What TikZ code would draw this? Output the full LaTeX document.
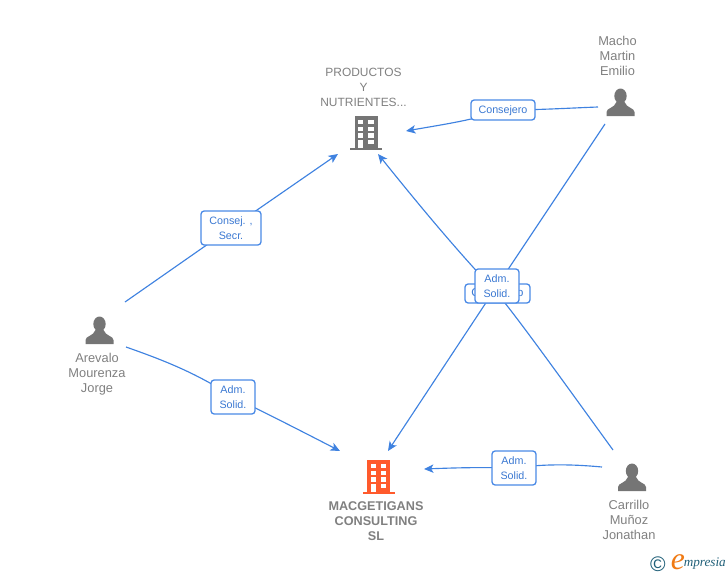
\documentclass[tikz,border=0pt]{standalone}
\usepackage{fontspec}
\setmainfont{Liberation Sans}
\newfontfamily\logofont{Liberation Serif}
\usetikzlibrary{arrows.meta,backgrounds}
\definecolor{linkblue}{HTML}{3F82E0}
\definecolor{boxblue}{HTML}{4A8AE6}
\definecolor{textblue}{HTML}{3A78D2}
\definecolor{namegray}{HTML}{808080}
\definecolor{iconorange}{HTML}{FF5A2C}
\definecolor{icongray}{HTML}{757575}
\definecolor{logoteal}{HTML}{1F5F78}
\definecolor{logoorange}{HTML}{F07A14}
\tikzset{
    linkbox/.style={draw=boxblue, line width=.75pt, fill=white, rounded corners=1.8pt, inner sep=0pt,
        text=textblue, align=center, font={\fontsize{6.1}{8.5}\selectfont}},
    link/.style={draw=linkblue, line width=.65pt},
    linkarrow/.style={link, -{Stealth[length=5.4pt,width=4.8pt,inset=1.4pt]}},
    namelabel/.style={text=namegray, align=center, font={\fontsize{7.3}{8.5}\selectfont}},
    pics/person/.style={code={
        \fill[icongray] (0, -20) ellipse (6.2 and 7.5);
        \fill[icongray] (-14, 0) -- (-14, -4) .. controls (-14, -8) and (-6, -8) .. (-4, -14) -- (4, -14)
            .. controls (6, -8) and (14, -8) .. (14, -4) -- (14, 0) -- cycle;
    }},
    pics/building/.style={code={
        \fill[#1] (-11.5, 0) rectangle (11.5, 32);
        \fill[#1] (-16, 31.5) rectangle (16, 34);
        \foreach \row in {4, 10.7, 17.3} {
            \fill[white] (-8, \row) rectangle (-2.7, \row+4.3);
            \fill[white] (2.3, \row) rectangle (7.7, \row+4.3);
        }
        \fill[white] (-8, 24) rectangle (-2.7, 31.5);
        \fill[white] (2.3, 24) rectangle (7.7, 28.3);
    }}
}
\begin{document}
\begin{tikzpicture}[x=.2mm, y=-.2mm]
        \useasboundingbox (0, 0) rectangle (728, 575);

        % icons
        \pic at(366, 116){building=icongray};
        \pic at(378.5, 460){building=iconorange};
        \pic at(99.5, 344){person};
        \pic at(620.5, 116){person};
        \pic at(632, 491){person};

        % names
        \node[namelabel, font={\fontsize{6.8}{8.5}\selectfont}] (nameProductos) at(363.5, 87){PRODUCTOS\\Y\\NUTRIENTES...};
        \node[namelabel, font={\fontsize{7.2}{8.5}\selectfont\bfseries}] (nameMacgetigans) at(376, 521){MACGETIGANS\\CONSULTING\\SL};
        \node[namelabel] (nameArevalo) at(97, 374.5){Arevalo\\Mourenza\\Jorge};
        \node[namelabel] (nameMacho) at(617.5, 56){Macho\\Martin\\Emilio};
        \node[namelabel] (nameCarrillo) at(629, 520){Carrillo\\Muñoz\\Jonathan};

        % free ends
        \coordinate (arevaloUp) at(125, 302);
        \coordinate (arevaloDown) at(126, 347);
        \coordinate (machoLeft) at(598, 107);
        \coordinate (machoDown) at(605, 124);
        \coordinate (carrilloUp) at(613, 450);
        \coordinate (carrilloLeft) at(602, 467);
        \coordinate (productosLeft) at(338, 154);
        \coordinate (productosBelow) at(378, 154);
        \coordinate (productosRight) at(406, 131);
        \coordinate (macgetigansLeft) at(340, 451);
        \coordinate (macgetigansAbove) at(388, 451);
        \coordinate (macgetigansRight) at(424, 469);

        % labels
        \node[linkbox, minimum width=60*.2mm, minimum height=34*.2mm] (labConsej) at(231, 228){Consej. ,\\Secr.};
        \node[linkbox, minimum width=44*.2mm, minimum height=34*.2mm] (labArevalo) at(233, 397){Adm.\\Solid.};
        \node[linkbox, minimum width=64*.2mm, minimum height=20*.2mm, text height=5.5pt, text depth=1pt] (labMacho) at(503, 110){Consejero};
        \node[linkbox, minimum width=65*.2mm, minimum height=19*.2mm, font={\fontsize{6.5}{8.5}\selectfont}] (labHidden) at(497.5, 293.5){Consejero};
        \node[linkbox, minimum width=44*.2mm, minimum height=34*.2mm] (labCentre) at(497, 286){Adm.\\Solid.};
        \node[linkbox, minimum width=44*.2mm, minimum height=34*.2mm] (labCarrillo) at(514, 468){Adm.\\Solid.};

        % connectors
        \begin{pgfonlayer}{background}
            \draw[link] (arevaloUp) to (labConsej.center);
            \draw[linkarrow] (labConsej.center) to (productosLeft);
            \draw[link] (arevaloDown) .. controls (160, 359) and (195, 372) .. (labArevalo.center);
            \draw[linkarrow] (labArevalo.center) .. controls (270, 415) and (305, 433) .. (macgetigansLeft);
            \draw[link] (machoLeft) .. controls (570, 108) and (540, 110) .. (labMacho.center);
            \draw[linkarrow] (labMacho.center) .. controls (475, 120) and (440, 125) .. (productosRight);
            \draw[link] (machoDown) to (labCentre.center);
            \draw[linkarrow] (labCentre.center) to (macgetigansAbove);
            \draw[link] (carrilloUp) .. controls (555, 370) and (525, 328) .. (labHidden.center);
            \draw[linkarrow] (labHidden.center) .. controls (456, 250) and (415, 200) .. (productosBelow);
            \draw[link] (carrilloLeft) .. controls (580, 465) and (550, 463) .. (labCarrillo.center);
            \draw[linkarrow] (labCarrillo.center) .. controls (480, 467) and (450, 468) .. (macgetigansRight);
        \end{pgfonlayer}

        % logo
        \node[text=logoteal, font={\fontsize{12}{12}\selectfont}, inner sep=0pt] (logoCopy) at(658, 564){©};
        \node[text=logoorange, font={\logofont\itshape\fontsize{18}{18}\selectfont}, inner sep=0pt] (logoE) at(678, 562){e};
        \node[text=logoteal, font={\logofont\itshape\fontsize{7.5}{8}\selectfont}, inner sep=0pt, anchor=west] (logoName) at(683.5, 564){mpresia};
\end{tikzpicture}
\end{document}
